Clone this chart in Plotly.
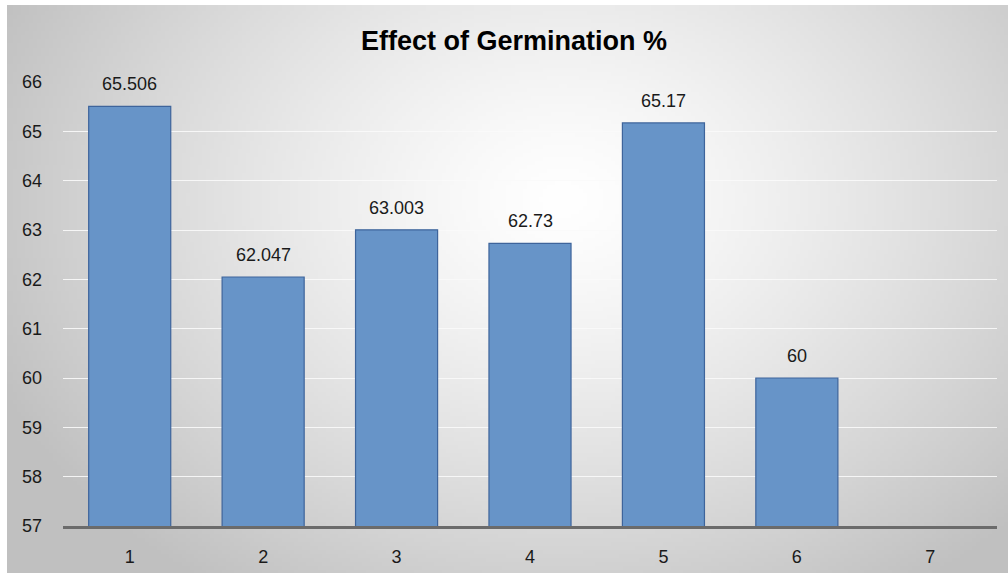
import base64, struct, zlib
import numpy as np
import plotly.graph_objects as go

categories = ["1", "2", "3", "4", "5", "6", "7"]
values = [65.506, 62.047, 63.003, 62.73, 65.17, 60, None]
title_text = "Effect of Germination %"

# ---- radial gradient background image ----
def make_png(w, h):
    ys, xs = np.mgrid[0:h, 0:w]
    sx, sy = w / 1001.0, h / 568.0
    cx, cy = 553 * sx, 190 * sy
    d = np.sqrt(((xs - cx) / (620 * sx)) ** 2 + ((ys - cy) / (470 * sy)) ** 2)
    t = np.clip(d, 0, 1) ** 1.3
    v = (255 - t * (255 - 192)).astype(np.uint8)
    raw = b"".join(b"\x00" + bytes(np.stack([v[r]] * 3, axis=-1).tobytes()) for r in range(h))
    def chunk(tag, data):
        c = struct.pack(">I", len(data)) + tag + data
        return c + struct.pack(">I", zlib.crc32(tag + data) & 0xffffffff)
    png = b"\x89PNG\r\n\x1a\n" + chunk(b"IHDR", struct.pack(">IIBBBBB", w, h, 8, 2, 0, 0, 0))
    png += chunk(b"IDAT", zlib.compress(raw, 9)) + chunk(b"IEND", b"")
    return "data:image/png;base64," + base64.b64encode(png).decode()

bg = make_png(250, 142)

L, R, T, B = 63, 997, 82, 526
pw, ph = R - L, B - T

fig = go.Figure()
fig.add_trace(go.Bar(
    x=categories, y=values, cliponaxis=False,
    marker=dict(color="rgb(103,148,200)", line=dict(color="rgb(62,100,155)", width=1.2)),
))
for i, v in enumerate(values):
    if v is not None:
        fig.add_annotation(x=i, y=v, text=f"{v:g}", showarrow=False, yanchor="bottom",
                           yshift=10, font=dict(size=18, color="#1a1a1a"))

fig.update_layout(
    width=1008, height=573,
    margin=dict(l=L, r=1008 - R, t=T, b=573 - B, autoexpand=False),
    paper_bgcolor="white", plot_bgcolor="rgba(0,0,0,0)",
    font=dict(family="Liberation Sans, Arial, sans-serif", color="#1a1a1a"),
    title=dict(text=title_text, x=514 / 1008, xanchor="center", y=1 - 41 / 573, yanchor="middle",
               font=dict(size=27, color="black", weight="bold")),
    bargap=0.385, showlegend=False,
    images=[dict(source=bg, xref="paper", yref="paper",
                 x=(7 - L) / pw, y=(B - 5) / ph, sizex=1003 / pw, sizey=575 / ph,
                 xanchor="left", yanchor="top", sizing="stretch", layer="below")],
)
fig.update_xaxes(type="category", categoryorder="array", categoryarray=categories,
                 showline=True, linecolor="#6b6b6b", linewidth=2.5, showgrid=False,
                 ticks="", tickfont=dict(size=18, color="#1a1a1a"), ticklabelstandoff=13,
                 automargin=False)
fig.update_yaxes(range=[57, 66], dtick=1, showgrid=True, gridcolor="rgba(250,250,250,0.9)",
                 gridwidth=1, zeroline=False, showline=False, ticks="",
                 tickfont=dict(size=18, color="#1a1a1a"), ticklabelstandoff=20,
                 automargin=False)

fig.write_html("out.html", config={"displayModeBar": False},
               post_script="document.body.style.margin='0';")
